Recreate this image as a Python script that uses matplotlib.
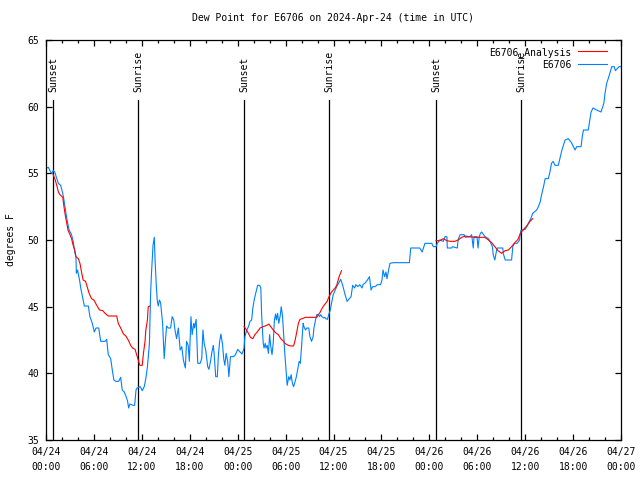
import numpy as np
import pandas as pd
import matplotlib
matplotlib.use("Agg")
import matplotlib.pyplot as plt
import matplotlib.dates as mdates
import matplotlib.transforms as mtransforms

# =========================
# Data (hours since 2024-04-24 00:00 UTC, degrees F)
# =========================

START = pd.Timestamp("2024-04-24 00:00")

obs_hours = [
    0.1, 0.3, 0.5, 0.7, 0.9, 1.1, 1.3, 1.55, 1.84, 2.1, 2.25, 2.5, 2.67, 2.9, 3.2, 3.4,
    3.6, 3.75, 3.8, 3.95, 4.2, 4.35, 4.55, 4.8, 5.3, 5.5, 5.8, 6.05, 6.26, 6.6, 6.85, 7.4,
    7.6, 7.8, 8.1, 8.3, 8.5, 8.75, 9.1, 9.35, 9.55, 9.8, 10.0, 10.2, 10.35, 10.5, 10.9, 11.1,
    11.27, 11.4, 11.8, 12.05, 12.3, 12.5, 12.7, 12.95, 13.1, 13.2, 13.4, 13.56, 13.65, 13.8,
    13.94, 14.06, 14.2, 14.35, 14.6, 14.8, 14.9, 15.1, 15.3, 15.6, 15.8, 16.0, 16.15, 16.35,
    16.57, 16.8, 17.0, 17.2, 17.45, 17.6, 17.8, 17.95, 18.15, 18.3, 18.5, 18.6, 18.8, 19.0,
    19.3, 19.5, 19.65, 19.8, 20.0, 20.25, 20.4, 20.6, 20.75, 20.95, 21.05, 21.25, 21.45,
    21.6, 21.75, 21.9, 22.1, 22.25, 22.4, 22.55, 22.75, 22.9, 23.1, 23.35, 23.6, 23.8, 24.0,
    24.3, 24.55, 24.8, 24.9, 25.15, 25.35, 25.55, 25.75, 25.9, 26.1, 26.3, 26.5, 26.75, 26.9,
    27.0, 27.2, 27.3, 27.45, 27.55, 27.7, 27.85, 28.0, 28.15, 28.3, 28.45, 28.6, 28.75, 28.85,
    29.0, 29.15, 29.35, 29.45, 29.6, 29.7, 29.9, 30.1, 30.2, 30.4, 30.55, 30.7, 30.85, 31.0,
    31.2, 31.35, 31.5, 31.7, 31.85, 32.0, 32.2, 32.3, 32.5, 32.65, 32.9, 33.05, 33.25, 33.45,
    33.55, 33.75, 33.9, 34.1, 34.25, 34.4, 34.55, 34.75, 34.9, 35.05, 35.25, 35.4, 35.6,
    35.75, 35.97, 36.4, 36.9, 37.15, 37.45, 37.7, 37.98, 38.2, 38.4, 38.65, 38.8, 39.05,
    39.3, 39.57, 39.7, 40.0, 40.25, 40.5, 40.7, 40.9, 41.2, 41.5, 41.9, 42.07, 42.2, 42.4,
    42.57, 42.7, 42.9, 43.07, 43.5, 45.5, 45.67, 46.8, 47.1, 47.45, 48.3, 48.5, 48.84, 49.0,
    49.3, 49.75, 49.96, 50.2, 50.25, 50.8, 50.9, 51.5, 51.6, 51.85, 52.35, 52.5, 53.1, 53.3,
    53.5, 53.6, 53.97, 54.1, 54.25, 54.4, 54.55, 54.97, 55.4, 55.6, 55.9, 56.0, 56.2, 56.35,
    56.5, 57.2, 57.25, 57.5, 58.3, 58.45, 58.65, 59.0, 59.3, 59.45, 59.7, 60.0, 60.2, 60.4,
    60.7, 60.95, 61.45, 61.65, 61.9, 62.0, 62.3, 62.5, 62.9, 63.1, 63.3, 63.5, 63.75, 64.15,
    64.35, 64.6, 65.0, 65.4, 65.8, 66.25, 66.45, 67.0, 67.15, 67.3, 67.9, 68.1, 68.25, 68.5,
    68.95, 69.5, 69.85, 70.0, 70.2, 70.4, 70.6, 70.85, 71.15, 71.3, 71.6, 71.75, 72.0,
]

obs_dewpoint = [
    55.4, 55.45, 55.2, 55.0, 55.2, 55.1, 54.7, 54.25, 54.1, 53.5, 53.0, 52.0, 51.4, 50.75, 50.4, 49.9,
    49.1, 48.75, 47.5, 47.75, 47.0, 46.4, 45.8, 45.05, 45.05, 44.25, 43.75, 43.1, 43.4, 43.4, 42.4, 42.4,
    42.55, 41.4, 41.1, 40.25, 39.5, 39.4, 39.4, 39.7, 38.75, 38.6, 38.3, 37.95, 37.4, 37.7, 37.6, 37.6,
    38.75, 38.9, 39.0, 38.7, 39.0, 39.6, 40.5, 42.25, 46.0, 47.4, 49.6, 50.2, 48.6, 46.7,
    45.4, 45.05, 45.5, 45.3, 43.75, 41.1, 42.0, 43.55, 43.4, 43.4, 44.25, 44.0, 43.25, 42.6,
    43.4, 41.75, 42.0, 41.0, 40.4, 42.4, 42.1, 40.9, 44.25, 42.9, 43.75, 43.4, 44.05, 40.75,
    40.75, 41.1, 43.25, 42.25, 41.75, 40.5, 40.3, 40.9, 41.5, 42.1, 41.5, 39.75, 39.75,
    41.5, 42.4, 42.95, 42.2, 41.1, 40.6, 41.5, 40.9, 39.75, 41.25, 41.25, 41.3, 41.5, 41.8,
    41.6, 41.45, 41.9, 42.75, 43.25, 43.5, 43.9, 44.0, 44.9, 45.6, 46.1, 46.6, 46.6, 46.4,
    44.4, 42.25, 41.9, 42.25, 41.9, 42.1, 41.5, 42.9, 42.0, 41.4, 42.25, 44.0, 44.45, 44.0,
    44.5, 43.75, 44.4, 45.0, 44.4, 43.5, 41.5, 39.9, 39.1, 39.75, 39.5, 39.9, 39.25, 39.0,
    39.4, 39.75, 40.25, 40.9, 40.75, 42.0, 43.75, 43.5, 43.25, 43.4, 43.4, 42.75, 42.4, 42.75,
    43.4, 44.0, 44.4, 44.4, 44.25, 44.4, 44.25, 44.15, 44.2, 44.1, 44.05, 44.4, 44.75,
    45.25, 45.9, 46.5, 47.05, 46.6, 45.9, 45.4, 45.6, 45.75, 46.6, 46.4, 46.65, 46.5,
    46.65, 46.4, 46.65, 46.8, 47.0, 47.25, 46.25, 46.5, 46.5, 46.65, 46.65, 47.0, 47.75, 47.25,
    47.6, 47.1, 47.75, 48.25, 48.3, 48.3, 49.4, 49.4, 49.1, 49.75, 49.75, 49.5, 49.5, 49.75,
    50.0, 49.9, 50.25, 50.25, 49.4, 49.4, 49.5, 49.4, 50.0, 50.4, 50.4, 50.2, 50.25, 50.4,
    49.4, 50.25, 50.25, 49.4, 50.25, 50.5, 50.6, 50.25, 50.1, 49.9, 49.5, 48.9, 48.5, 49.0,
    49.4, 49.4, 49.0, 48.5, 48.5, 49.5, 49.75, 49.75, 50.0, 50.7, 50.75, 50.8, 51.0, 51.25,
    51.6, 52.0, 52.25, 52.5, 52.9, 53.25, 54.0, 54.6, 54.6, 55.1, 55.75, 55.9, 55.6, 55.6,
    56.1, 56.75, 57.5, 57.6, 57.3, 56.75, 57.0, 57.0, 57.75, 58.25, 58.25, 59.0, 59.6, 59.9,
    59.75, 59.6, 60.25, 61.0, 61.75, 62.1, 62.5, 63.0, 63.0, 62.7, 62.9, 63.0, 63.0,
]

# analysis only exists around each sunset/sunrise pair, gaps as NaN
ana_hours = [
    0.9, 1.15, 1.35, 1.55, 1.75, 2.1, 2.25, 2.4, 2.6, 2.75, 3.0, 3.2, 3.4, 3.6, 3.75, 4.05,
    4.25, 4.45, 4.65, 4.95, 5.15, 5.4, 5.7, 6.0, 6.35, 6.7, 7.1, 7.4, 7.8, 8.85, 9.05, 9.35,
    9.7, 10.0, 10.3, 10.6, 10.85, 11.15, 11.35, 11.55, 11.75, 12.05, 12.2, 12.4, 12.5, 12.7,
    12.8, 13.0,
    13.1,
    24.8, 25.05, 25.35, 25.6, 25.9, 26.15, 26.45, 26.8, 27.2, 27.65, 27.9, 28.15, 28.45,
    28.75, 29.1, 29.4, 29.75, 29.9, 30.35, 30.7, 31.0, 31.2, 31.4, 31.6, 31.8, 32.1, 32.45,
    33.9, 34.1, 34.3, 34.5, 34.75, 34.95, 35.2, 35.4, 35.65, 35.9, 36.2, 36.4, 36.7, 37.0,
    37.1,
    48.84, 49.3, 49.75, 50.2, 50.6, 51.2, 51.6, 52.05, 52.5, 52.9, 53.7, 54.35, 54.96, 55.4,
    55.8, 56.2, 56.6, 57.05, 57.5, 57.9, 58.3, 58.7, 59.1, 59.4, 59.8, 60.2, 60.6, 60.95,
]

ana_dewpoint = [
    54.9, 54.5, 54.1, 53.6, 53.4, 53.2, 52.5, 51.9, 51.25, 50.75, 50.4, 50.1, 49.6, 49.25, 48.75, 48.6,
    48.25, 47.6, 47.0, 46.9, 46.5, 46.0, 45.6, 45.5, 45.1, 44.75, 44.7, 44.5, 44.3, 44.3, 43.75, 43.4,
    42.95, 42.8, 42.5, 42.1, 41.9, 41.8, 41.4, 41.0, 40.6, 40.6, 41.5, 42.4, 43.25, 44.0,
    45.0, 45.05,
    np.nan,
    43.5, 43.3, 43.0, 42.7, 42.6, 42.9, 43.1, 43.4, 43.5, 43.6, 43.7, 43.5, 43.25,
    43.05, 42.9, 42.6, 42.4, 42.25, 42.1, 42.05, 42.05, 42.5, 43.1, 43.75, 44.05, 44.1, 44.2,
    44.2, 44.4, 44.55, 44.8, 45.05, 45.2, 45.4, 45.7, 46.0, 46.2, 46.4, 46.6, 47.25, 47.7,
    np.nan,
    49.95, 49.95, 50.1, 49.95, 49.9, 49.9, 50.0, 50.2, 50.3, 50.25, 50.2, 50.2, 50.2, 50.0,
    49.8, 49.5, 49.2, 49.0, 49.2, 49.25, 49.5, 49.8, 50.05, 50.5, 50.8, 51.05, 51.4, 51.6,
]

sun_events = ["Sunset", "Sunrise", "Sunset", "Sunrise", "Sunset", "Sunrise"]
sun_times = ["2024-04-24 00:53", "2024-04-24 11:31", "2024-04-25 00:48",
             "2024-04-25 11:26", "2024-04-26 00:50", "2024-04-26 11:29"]

# =========================
# Plot
# =========================

plt.rcParams["font.family"] = "DejaVu Sans Mono"
plt.rcParams["font.size"] = 7

obs_t = START + pd.to_timedelta(obs_hours, unit="h")
ana_t = START + pd.to_timedelta(ana_hours, unit="h")

fig = plt.figure(figsize=(6.4, 4.8), dpi=100)
ax = fig.add_axes([46 / 640, 40 / 480, 575 / 640, 400 / 480])

ax.plot(ana_t, ana_dewpoint, color="#ff0000", lw=0.8, label="E6706_Analysis", zorder=3)
ax.plot(obs_t, obs_dewpoint, color="#0080ff", lw=0.8, label="E6706", zorder=2)

trans = mtransforms.blended_transform_factory(ax.transData, ax.transAxes)
for name, t in zip(sun_events, sun_times):
    x = mdates.date2num(pd.Timestamp(t))
    ax.plot([x, x], [0, 0.85], color="black", lw=0.9, transform=trans, zorder=1)
    ax.text(x, 0.87, name, rotation=90, ha="center", va="bottom", transform=trans)

ax.set_xlim(START, START + pd.Timedelta(hours=72))
ax.set_ylim(35, 65)
ax.set_yticks(np.arange(35, 66, 5))

ax.xaxis.set_major_locator(mdates.HourLocator(byhour=range(0, 24, 6)))
ax.xaxis.set_minor_locator(mdates.HourLocator(interval=2))
ax.xaxis.set_major_formatter(mdates.DateFormatter("%m/%d\n%H:%M"))
for lbl in ax.get_xticklabels():
    lbl.set_linespacing(1.6)

ax.tick_params(which="both", direction="in", top=True, right=True, width=0.9)
ax.tick_params(which="major", length=4.5, pad=5)
ax.tick_params(which="minor", length=2.2)
for s in ax.spines.values():
    s.set_linewidth(0.9)

ax.set_title("Dew Point for E6706 on 2024-Apr-24 (time in UTC)", fontsize=7, pad=14)
ax.set_ylabel("degrees F", labelpad=8)

ax.legend(loc="upper right", bbox_to_anchor=(0.99, 1.005), frameon=False,
          markerfirst=False, handlelength=2.9, handletextpad=0.7, labelspacing=0.2)

fig.savefig("out.png", dpi=100)
